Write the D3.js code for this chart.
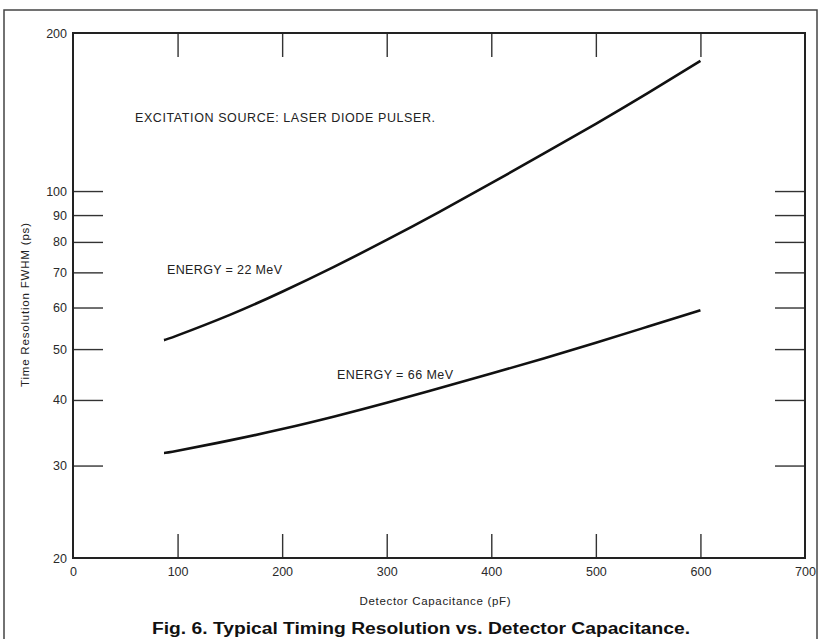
<!DOCTYPE html>
<html>
<head>
<meta charset="utf-8">
<script src="https://d3js.org/d3.v7.min.js"></script>
<style>
  body { margin: 0; background: #fff; }
  svg text { font-family: "Liberation Sans", Arial, Helvetica, sans-serif; fill: #222; }
</style>
</head>
<body>
<div id="vis"></div>
<script>
// capacitance (pF) at which the curves were read
const capacitance = [87, 100, 150, 200, 250, 300, 350, 400, 450, 500, 550, 600];
// time resolution FWHM (ps)
const res22MeV = [52.0, 53.1, 58.1, 64.3, 71.8, 80.7, 91.2, 103.5, 117.8, 134.3, 153.8, 177.0];
const res66MeV = [31.7, 32.0, 33.5, 35.2, 37.2, 39.5, 42.1, 44.9, 48.0, 51.4, 55.2, 59.3];

const xTicks = [0, 100, 200, 300, 400, 500, 600, 700];
const yTicks = [20, 30, 40, 50, 60, 70, 80, 90, 100, 200];

const width = 820, height = 639;
const plotLeft = 73, plotRight = 805, plotTop = 33, plotBottom = 558;

const svg = d3.select('#vis').append('svg')
    .attr('width', width).attr('height', height);

// outer frame of the figure
svg.append('rect')
    .attr('x', 4).attr('y', 10)
    .attr('width', 813).attr('height', 650)
    .attr('fill', 'none').attr('stroke', '#444').attr('stroke-width', 1.5);

let x = d3.scaleLinear().domain([0, 700]).range([plotLeft, plotRight]);
let y = d3.scaleLog().domain([20, 200]).range([plotBottom, plotTop]);

// inner ticks (no labels) on all four sides
const innerX = xTicks.slice(1, -1);
const innerY = yTicks.slice(1, -1);

function styleTicks(g) {
    g.select('.domain').remove();
    g.selectAll('.tick line').attr('stroke', '#333').attr('stroke-width', 1.4);
}

svg.append('g').attr('transform', `translate(0,${plotTop})`)
    .call(d3.axisTop(x).tickValues(innerX).tickSize(-24).tickFormat(''))
    .call(styleTicks);
svg.append('g').attr('transform', `translate(0,${plotBottom})`)
    .call(d3.axisBottom(x).tickValues(innerX).tickSize(-24).tickFormat(''))
    .call(styleTicks);
svg.append('g').attr('transform', `translate(${plotLeft},0)`)
    .call(d3.axisLeft(y).tickValues(innerY).tickSize(-30).tickFormat(''))
    .call(styleTicks);
svg.append('g').attr('transform', `translate(${plotRight},0)`)
    .call(d3.axisRight(y).tickValues(innerY).tickSize(-30).tickFormat(''))
    .call(styleTicks);

// tick labels
let xLab = svg.append('g').attr('transform', `translate(0,${plotBottom})`)
    .call(d3.axisBottom(x).tickValues(xTicks).tickSize(0).tickPadding(9).tickFormat(d3.format('d')));
xLab.select('.domain').remove();
xLab.attr('font-family', null).attr('font-size', null);
xLab.selectAll('text').attr('font-size', 12.5).style('fill', '#2a2a2a');

let yLab = svg.append('g').attr('transform', `translate(${plotLeft},0)`)
    .call(d3.axisLeft(y).tickValues(yTicks).tickSize(0).tickPadding(6).tickFormat(d3.format('d')));
yLab.select('.domain').remove();
yLab.attr('font-family', null).attr('font-size', null);
yLab.selectAll('text').attr('font-size', 12.5).style('fill', '#2a2a2a');

// plot frame
svg.append('rect')
    .attr('x', plotLeft).attr('y', plotTop)
    .attr('width', plotRight - plotLeft).attr('height', plotBottom - plotTop)
    .attr('fill', 'none').attr('stroke', '#222').attr('stroke-width', 2);

// curves
let line = d3.line()
    .x((d, i) => x(capacitance[i]))
    .y(d => y(d))
    .curve(d3.curveNatural);

[res22MeV, res66MeV].forEach(series => {
    svg.append('path')
        .attr('d', line(series))
        .attr('fill', 'none')
        .attr('stroke', '#111')
        .attr('stroke-width', 2.6);
});

// annotations
function label(txt, x0, yc, len, size) {
    svg.append('text')
        .attr('x', x0).attr('y', yc).attr('dy', '0.35em')
        .attr('font-size', size)
        .attr('textLength', len).attr('lengthAdjust', 'spacing')
        .text(txt);
}
label('EXCITATION SOURCE:  LASER DIODE PULSER.', 135, 118, 300, 12.5);
label('ENERGY = 22 MeV', 167, 270, 115, 12.5);
label('ENERGY = 66 MeV', 337, 375, 116, 12.5);

// axis titles
svg.append('text')
    .attr('transform', 'translate(25,305) rotate(-90)')
    .attr('text-anchor', 'middle').attr('dy', '0.35em')
    .attr('font-size', 11.5)
    .attr('textLength', 164).attr('lengthAdjust', 'spacing')
    .text('Time Resolution FWHM (ps)');

svg.append('text')
    .attr('x', 435).attr('y', 601).attr('dy', '0.35em')
    .attr('text-anchor', 'middle')
    .attr('font-size', 11.5)
    .attr('textLength', 151).attr('lengthAdjust', 'spacing')
    .text('Detector Capacitance (pF)');

// caption
svg.append('text')
    .attr('x', 421).attr('y', 628).attr('dy', '0.35em')
    .attr('text-anchor', 'middle')
    .attr('font-size', 16).attr('font-weight', 'bold')
    .style('fill', '#111')
    .attr('textLength', 538).attr('lengthAdjust', 'spacingAndGlyphs')
    .text('Fig. 6.  Typical Timing Resolution vs. Detector Capacitance.');
</script>
</body>
</html>
